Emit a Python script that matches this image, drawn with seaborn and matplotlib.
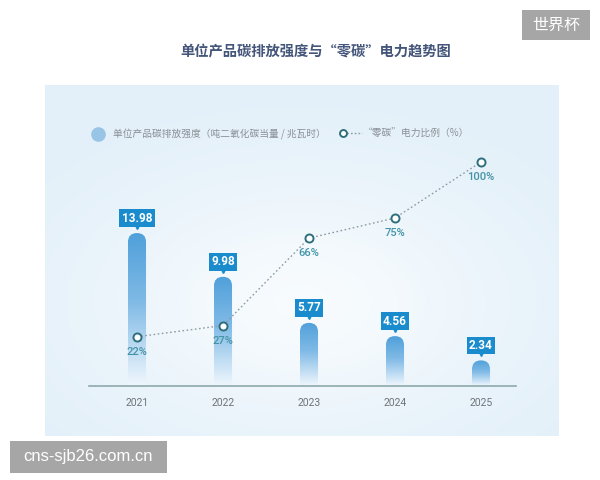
import numpy as np
import matplotlib
matplotlib.use('Agg')
import matplotlib.pyplot as plt
import seaborn as sns
import pandas as pd
from matplotlib.patches import FancyBboxPatch, Rectangle
from matplotlib.lines import Line2D
from matplotlib.transforms import offset_copy
from matplotlib.colors import to_rgb

# ---------------- data ----------------
years = ['2021', '2022', '2023', '2024', '2025']
intensity = [13.98, 9.98, 5.77, 4.56, 2.34]
zero_carbon_pct = [22, 27, 66, 75, 100]
title = '单位产品碳排放强度与“零碳”电力趋势图'
legend_bar = '单位产品碳排放强度（吨二氧化碳当量 / 兆瓦时）'
legend_line = '“零碳”电力比例（%）'
wm_top = '世界杯'
wm_bottom = 'cns-sjb26.com.cn'

sns.set_theme(style='white')
plt.rcParams['font.family'] = ['Noto Sans CJK SC', 'DejaVu Sans']

W, H = 600, 480
fig = plt.figure(figsize=(6, 4.8), dpi=100)
fig.patch.set_facecolor('white')


def fx(px):
    return px / W


def fy(py):
    return 1 - py / H


# ---------------- panel background ----------------
bg = fig.add_axes([fx(45), fy(436), fx(559) - fx(45), fy(85) - fy(436)], zorder=0)
ny, nx = 200, 300
yy, xx = np.mgrid[0:1:ny * 1j, 0:1:nx * 1j]
glow = np.exp(-((xx - 0.5) / 0.40) ** 2 - ((yy - 0.62) / 0.36) ** 2)
blue = np.array(to_rgb('#e3f0f9'))
white = np.array([0.978, 0.990, 0.998])
g = (glow * 0.9)[..., None]
img = blue * (1 - g) + white * g
bg.imshow(img, aspect='auto', extent=[0, 1, 0, 1], origin='upper')
bg.axis('off')

# ---------------- main axes ----------------
ax_l, ax_r, ax_t, ax_b = 89, 516, 140, 386
ax = fig.add_axes([fx(ax_l), fy(ax_b), fx(ax_r) - fx(ax_l), fy(ax_t) - fy(ax_b)], zorder=2)
ax.patch.set_alpha(0)

df = pd.DataFrame({'year': years, 'intensity': intensity, 'pct': zero_carbon_pct})
sns.barplot(data=df, x='year', y='intensity', ax=ax, width=0.21,
            color='#5aa6dc', saturation=1)

XL = (-0.558, 4.407)
YL = (0, (ax_b - ax_t) / 10.94)
ax.set_xlim(*XL)
ax.set_ylim(*YL)

xu = (XL[1] - XL[0]) / (ax_r - ax_l)
yu = (YL[1] - YL[0]) / (ax_b - ax_t)
asp = yu / xu

c_top = np.array(to_rgb('#4fa0da'))
c_mid = np.array(to_rgb('#80bae6'))
c_bot = np.array(to_rgb('#f0f7fd'))
n = 256
t = np.linspace(0, 1, n)
cols = np.zeros((n, 3))
for k, tv in enumerate(t):
    if tv < 0.45:
        s = tv / 0.45
        cols[k] = c_top * (1 - s) + c_mid * s
    else:
        s = (tv - 0.45) / 0.55
        cols[k] = c_mid * (1 - s) + c_bot * s
grad = cols[:, None, :]

for p in list(ax.patches):
    x0, w, h = p.get_x(), p.get_width(), p.get_height()
    p.set_visible(False)
    clip = FancyBboxPatch((x0, -2), w, h + 2,
                          boxstyle=f'round,pad=0,rounding_size={w / 2}',
                          mutation_aspect=asp, transform=ax.transData,
                          facecolor='none', edgecolor='none')
    ax.add_patch(clip)
    im = ax.imshow(grad, extent=[x0, x0 + w, 0, h], aspect='auto',
                   origin='upper', zorder=2)
    im.set_clip_path(clip)

ax.set_xlim(*XL)
ax.set_ylim(*YL)

# value label boxes
box_c = '#1a8bcc'
for i, v in enumerate(intensity):
    ax.annotate(f'{v:.2f}', xy=(i, v), xytext=(0, 15 / 1.389),
                textcoords='offset points', ha='center', va='center',
                fontsize=8.5, color='white', weight='bold', family='Roboto',
                bbox=dict(boxstyle='square,pad=0.2', fc=box_c, ec='none'),
                zorder=5)
    tr = offset_copy(ax.transData, fig=fig, x=0, y=7, units='dots')
    ax.plot([i], [v], marker='v', ms=4, color=box_c, transform=tr,
            zorder=5, clip_on=False)

ax.set_xlabel('')
ax.set_ylabel('')
ax.set_yticks([])
ax.tick_params(axis='x', length=0, pad=9, labelsize=7.5, labelcolor='#6f7478')
for lbl in ax.get_xticklabels():
    lbl.set_fontfamily('Roboto')
for s in ['left', 'right', 'top']:
    ax.spines[s].set_visible(False)
ax.spines['bottom'].set_color('#8ea9aa')
ax.spines['bottom'].set_linewidth(1.2)

# ---------------- line (secondary axis) ----------------
ax2 = ax.twinx()
ax2.patch.set_alpha(0)
sns.lineplot(x=np.arange(len(years)), y=zero_carbon_pct, ax=ax2,
             color='#8c9ca6', linewidth=1, marker='o', markersize=5.8,
             markerfacecolor='white', markeredgecolor='#2e6f7d',
             markeredgewidth=1.4)
for ln in ax2.lines:
    ln.set_dashes([1.2, 1.8])
ax2.set_ylim(0, (ax_b - ax_t) / 2.24)
ax2.set_xlim(*XL)
ax2.set_yticks([])
ax2.set_ylabel('')
for s in ['left', 'right', 'top', 'bottom']:
    ax2.spines[s].set_visible(False)

for i, v in enumerate(zero_carbon_pct):
    ax2.annotate(f'{v}%', xy=(i, v), xytext=(0, -15 / 1.389),
                 textcoords='offset points', ha='center', va='center',
                 fontsize=8, color='#4394a8', weight='medium', family='Roboto')

# ---------------- title & legend ----------------
fig.text(fx(316), fy(52), title, ha='center', va='center', fontsize=10.3,
         color='#44557a', weight='bold')

fig.add_artist(Line2D([fx(98)], [fy(134)], marker='o', ms=9.5, color='#98c4e5',
                      transform=fig.transFigure))
fig.text(fx(113), fy(134), legend_bar, ha='left', va='center', fontsize=7,
         color='#8a8f96')
ld = Line2D([fx(343), fx(362)], [fy(133), fy(133)], color='#8c9ca6', lw=1,
            transform=fig.transFigure)
ld.set_dashes([1.2, 1.5])
fig.add_artist(ld)
fig.add_artist(Line2D([fx(343)], [fy(133)], marker='o', ms=5, mfc='white',
                      mec='#2e6f7d', mew=1.4, transform=fig.transFigure))
fig.text(fx(363), fy(134), legend_line, ha='left', va='center', fontsize=7,
         color='#8a8f96')

# ---------------- watermarks ----------------
fig.add_artist(Rectangle((fx(522), fy(40)), fx(590) - fx(522), fy(10) - fy(40),
                         transform=fig.transFigure, fc='#a6a6a6', ec='none'))
fig.text(fx(556), fy(25), wm_top, ha='center', va='center', fontsize=11.5,
         color='white')
fig.add_artist(Rectangle((fx(10), fy(473)), fx(167) - fx(10), fy(441) - fy(473),
                         transform=fig.transFigure, fc='#a6a6a6', ec='none'))
fig.text(fx(88), fy(457), wm_bottom, ha='center', va='center', fontsize=12,
         color='white', family='Liberation Sans')

fig.savefig('out.png', dpi=100, facecolor='white')
